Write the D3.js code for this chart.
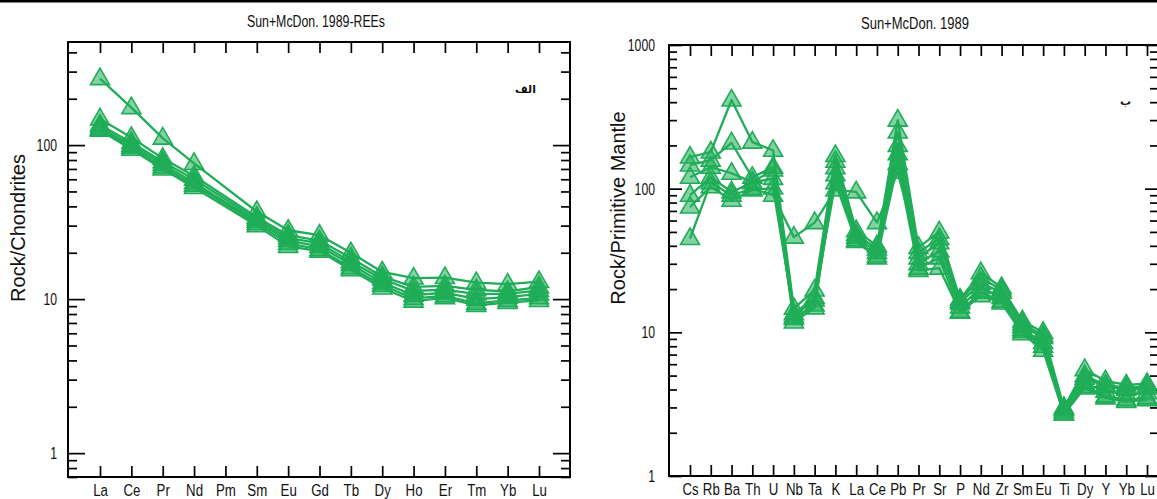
<!DOCTYPE html>
<html>
<head>
<meta charset="utf-8">
<script src="https://cdn.jsdelivr.net/npm/d3@7"></script>
<style>
  html, body { margin: 0; padding: 0; background: #fff; }
</style>
</head>
<body>
<div class="canvas"></div>
<script>
// REE diagram (chondrite normalised)
const reeElements = ["La", "Ce", "Pr", "Nd", "Pm", "Sm", "Eu", "Gd", "Tb", "Dy", "Ho", "Er", "Tm", "Yb", "Lu"]
// null = not measured (Pm)
const ree1 = [270, 175, 111, 76, null, 37, 28, 26, 20, 15, 13.7, 13.8, 12.8, 12.5, 13]
const ree2 = [148, 112, 82, 63, null, 34, 26, 24, 18.5, 14, 12, 12.2, 11.5, 11.2, 12]
const ree3 = [135, 104, 78, 60, null, 33, 25, 23, 17.5, 13.5, 11.3, 11.5, 10.8, 10.8, 11.4]
const ree4 = [130, 100, 75, 57, null, 32, 24, 22, 16.8, 12.8, 10.6, 11, 10, 10.3, 10.8]
const ree5 = [127, 97, 72, 55, null, 31, 23, 21, 16, 12.3, 10.1, 10.5, 9.4, 9.8, 10.2]
const ree6 = [125, 94, 70, 53, null, 30, 22, 20.5, 15.5, 11.8, 9.7, 10.2, 9.1, 9.5, 9.8]
const reeSeries = [ree1, ree2, ree3, ree4, ree5, ree6]

// spider diagram (primitive mantle normalised)
const spiderElements = ["Cs", "Rb", "Ba", "Th", "U", "Nb", "Ta", "K", "La", "Ce", "Pb", "Pr", "Sr", "P", "Nd", "Zr", "Sm", "Eu", "Ti", "Dy", "Y", "Yb", "Lu"]
const pm1 = [166, 180, 414, 211, 185, 14.7, 19.7, 170, 51, 40, 300, 39, 50, 17, 26, 20.5, 12, 10, 3.0, 5.5, 4.6, 4.3, 4.4]
const pm2 = [146, 158, 208, 120, 141, 12.9, 16.8, 155, 48, 38, 248, 33, 42, 16, 22, 19, 11, 9.2, 2.9, 4.8, 4.2, 4.0, 4.1]
const pm3 = [120, 141, 128, 111, 135, 11.8, 14.8, 140, 46, 36, 200, 30, 37, 15, 20.5, 17.5, 10.5, 8.5, 2.8, 4.4, 3.9, 3.7, 3.8]
const pm4 = [90, 120, 95, 110, 118, 12.5, 15.5, 125, 44, 34, 175, 28, 33, 14, 19, 16.5, 10.2, 8, 2.7, 4.2, 3.6, 3.4, 3.5]
const pm5 = [74.5, 103, 83, 98, 101, 13.5, 17.5, 110, 43, 33, 150, 27, 28, 13.8, 18, 16, 9.8, 7.5, 2.7, 4.1, 3.5, 3.3, 3.4]
const pm6 = [45, 110, 90, 100, 90, 46, 58, 98, 95, 58, 130, 36, 45, 16.5, 24, 19.7, 11.5, 9.5, 2.9, 5, 4.3, 4.1, 4.2]
const spiderSeries = [pm1, pm2, pm3, pm4, pm5, pm6]

const leftTickLabels = ["1", "10", "100"]
const rightTickLabels = ["1", "10", "100", "1000"]

const lineColor = "#1fad57"
const width = 1157
const height = 499
const fontFamily = "Liberation Sans, Arial, sans-serif"

const svg = d3.select(".canvas").append("svg").attr("width", width).attr("height", height)

svg.append("rect").attr("x", 0).attr("y", 0).attr("width", width).attr("height", 2.5).attr("fill", "#000")

const trianglePath = "M0,-10.5L9.5,6L-9.5,6Z"

// squeeze text sideways, the original uses a narrow face
const narrow = (sel, size, sx) => sel
    .attr("font-family", fontFamily)
    .attr("font-size", size)
    .attr("fill", "#111")
    .attr("transform", `scale(${sx},1)`)

const drawPanel = (opts) => {
    const {elements, series, yDomain, frame, xRange, tickLabels, majorLen, minorLen, xTickLen, labelPad,
           title, titleX, titleY, titleLen, yTitle, yTitleX, yTitleY, tag, tagX, tagY} = opts

    const g = svg.append("g")

    const x = d3.scalePoint().domain(elements).range(xRange)
    const y = d3.scaleLog().domain(yDomain).range([frame.bottom, frame.top])

    const allTicks = y.ticks().filter(t => t >= yDomain[0] && t <= yDomain[1])
    const major = allTicks.filter(t => tickLabels.includes(String(t)))
    const minor = allTicks.filter(t => !major.includes(t))

    // frame
    g.append("rect")
        .attr("x", frame.left).attr("y", frame.top)
        .attr("width", frame.right - frame.left).attr("height", frame.bottom - frame.top)
        .attr("fill", "none").attr("stroke", "#000").attr("stroke-width", 2)

    const styleAxis = sel => {
        sel.select(".domain").remove()
        sel.selectAll(".tick line").attr("stroke", "#000").attr("stroke-width", 1.7)
    }

    // y ticks, left side (minor + major with labels)
    g.append("g").attr("transform", `translate(${frame.left},0)`)
        .call(d3.axisLeft(y).tickValues(minor).tickSize(-minorLen).tickFormat(""))
        .call(styleAxis)
    g.append("g").attr("transform", `translate(${frame.left},0)`)
        .call(d3.axisLeft(y).tickValues(major).tickSize(-majorLen).tickFormat(d => String(d)))
        .call(styleAxis)
        .call(sel => sel.selectAll("text").call(narrow, 17, 0.72).attr("x", -labelPad / 0.72))

    // y ticks, right side
    g.append("g").attr("transform", `translate(${frame.right},0)`)
        .call(d3.axisRight(y).tickValues(minor).tickSize(-minorLen).tickFormat(""))
        .call(styleAxis)
    g.append("g").attr("transform", `translate(${frame.right},0)`)
        .call(d3.axisRight(y).tickValues(major).tickSize(-majorLen).tickFormat(""))
        .call(styleAxis)

    // x ticks
    g.append("g").attr("transform", `translate(0,${frame.bottom})`)
        .call(d3.axisBottom(x).tickSize(-xTickLen).tickPadding(7))
        .call(styleAxis)
        .call(sel => sel.selectAll("text").call(narrow, 17, 0.78))
    g.append("g").attr("transform", `translate(0,${frame.top})`)
        .call(d3.axisTop(x).tickSize(-xTickLen).tickFormat(""))
        .call(styleAxis)

    // title
    g.append("text")
        .attr("x", titleX - titleLen / 2).attr("y", titleY)
        .attr("font-family", fontFamily).attr("font-size", 16).attr("fill", "#111")
        .attr("textLength", titleLen).attr("lengthAdjust", "spacingAndGlyphs")
        .text(title)

    g.append("text")
        .attr("transform", `translate(${yTitleX},${yTitleY}) rotate(-90)`)
        .attr("text-anchor", "middle")
        .attr("font-family", fontFamily)
        .attr("font-size", 20).attr("fill", "#111")
        .text(yTitle)

    g.append("text")
        .attr("x", tagX).attr("y", tagY)
        .attr("text-anchor", "end")
        .attr("font-family", "DejaVu Sans, Noto Sans, sans-serif")
        .attr("font-size", 11).attr("font-weight", "bold").attr("fill", "#111")
        .text(tag)

    // data
    const line = d3.line()
        .x(d => x(d.el))
        .y(d => y(d.v))

    series.forEach(vals => {
        const pts = elements.map((el, i) => ({el, v: vals[i]})).filter(d => d.v != null)
        const s = g.append("g")
        s.append("path")
            .datum(pts)
            .attr("d", line)
            .attr("fill", "none")
            .attr("stroke", lineColor)
            .attr("stroke-width", 2.3)
            .attr("stroke-linejoin", "round")
        s.selectAll("path.mk")
            .data(pts)
            .enter().append("path")
            .attr("class", "mk")
            .attr("d", trianglePath)
            .attr("transform", d => `translate(${x(d.el)},${y(d.v)})`)
            .attr("fill", lineColor).attr("fill-opacity", 0.55)
            .attr("stroke", lineColor).attr("stroke-width", 1.6)
    })
}

drawPanel({
    elements: reeElements,
    series: reeSeries,
    yDomain: [0.7, 467],
    frame: {left: 68, right: 570, top: 42, bottom: 477},
    xRange: [100, 539],
    tickLabels: leftTickLabels,
    majorLen: 17, minorLen: 9, xTickLen: 11, labelPad: 11,
    title: "Sun+McDon. 1989-REEs", titleX: 316, titleY: 27, titleLen: 138,
    yTitle: "Rock/Chondrites", yTitleX: 25, yTitleY: 228,
    tag: "الف", tagX: 536, tagY: 93
})

drawPanel({
    elements: spiderElements,
    series: spiderSeries,
    yDomain: [1, 1000],
    frame: {left: 669, right: 1158, top: 45, bottom: 476},
    xRange: [690, 1147],
    tickLabels: rightTickLabels,
    majorLen: 13, minorLen: 8, xTickLen: 11, labelPad: 14,
    title: "Sun+McDon. 1989", titleX: 915, titleY: 29, titleLen: 108,
    yTitle: "Rock/Primitive Mantle", yTitleX: 625, yTitleY: 208,
    tag: "ب", tagX: 1131, tagY: 105
})
</script>
</body>
</html>
